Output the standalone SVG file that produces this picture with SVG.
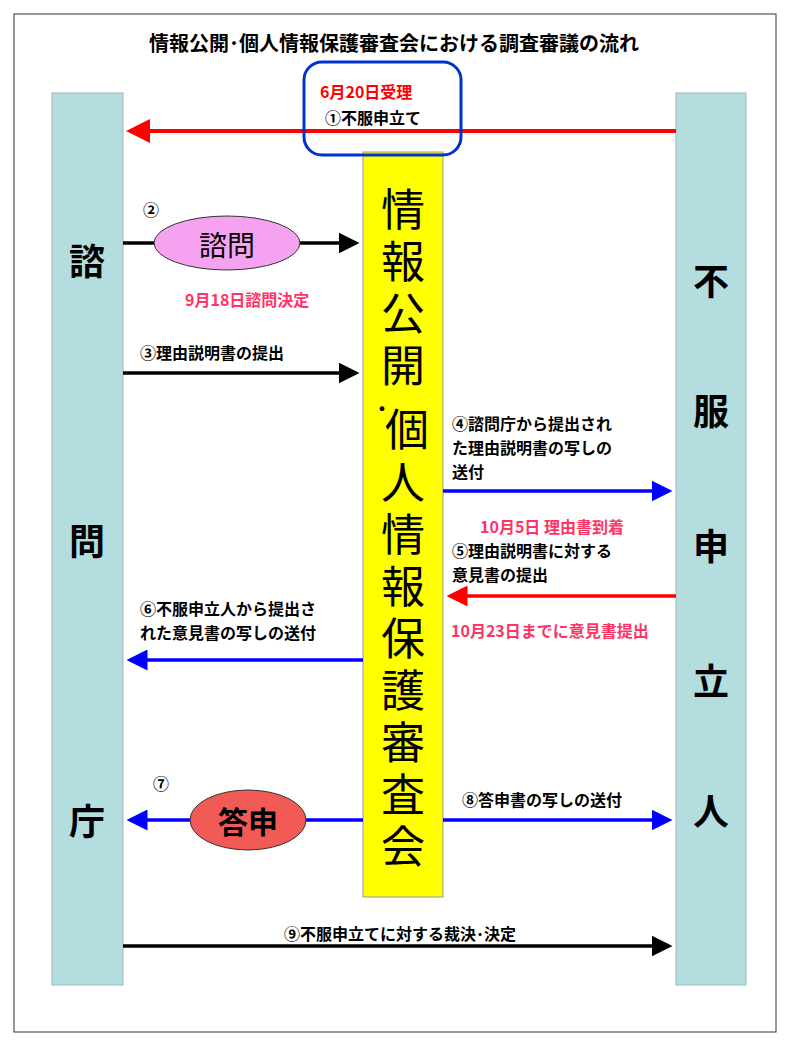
<svg xmlns="http://www.w3.org/2000/svg" width="788" height="1046" viewBox="0 0 788 1046">
<style>
text{font-family:"Noto Sans CJK JP","Liberation Sans",sans-serif;fill:#000}
.lb{font-size:16px;font-weight:bold}
.pk{font-size:16px;font-weight:bold;fill:#ff3366}
.big{font-size:44px;text-anchor:middle}
.side{font-size:36px;font-weight:bold;text-anchor:middle}
.pillar{fill:#b4dde0;stroke:#9fb8bc;stroke-width:1}
</style>
<defs>
<marker id="ak" markerWidth="6" markerHeight="6" refX="5" refY="3" orient="auto" markerUnits="strokeWidth"><path d="M0,0L6,3L0,6z" fill="#000"/></marker>
<marker id="ab" markerWidth="6" markerHeight="6" refX="5" refY="3" orient="auto" markerUnits="strokeWidth"><path d="M0,0L6,3L0,6z" fill="#0000ff"/></marker>
<marker id="ar" markerWidth="6" markerHeight="6" refX="5" refY="3" orient="auto" markerUnits="strokeWidth"><path d="M0,0L6,3L0,6z" fill="#ff0000"/></marker>
</defs>
<rect width="788" height="1046" fill="#fff"/>
<rect x="14" y="14" width="762" height="1018" fill="none" stroke="#333" stroke-width="1"/>
<text x="394" y="51" text-anchor="middle" style="font-size:20px;font-weight:bold">情報公開･個人情報保護審査会における調査審議の流れ</text>
<g id="shimon">
<rect class="pillar" x="52" y="93" width="71" height="892"/>
<text class="side" x="87" y="275">諮</text>
<text class="side" x="87" y="555">問</text>
<text class="side" x="87" y="835">庁</text>
</g>
<g id="fufuku">
<rect class="pillar" x="676" y="93" width="70" height="892"/>
<text class="side" x="711" y="295">不</text>
<text class="side" x="711" y="425">服</text>
<text class="side" x="711" y="560">申</text>
<text class="side" x="711" y="695">立</text>
<text class="side" x="711" y="825">人</text>
</g>
<g id="shinsakai">
<rect x="363" y="152" width="80" height="745" fill="#ffff00" stroke="#999" stroke-width="1"/>
<text class="big" x="403" y="226">情</text>
<text class="big" x="403" y="278">報</text>
<text class="big" x="403" y="330">公</text>
<text class="big" x="403" y="382">開</text>
<text class="big" x="382" y="420" style="font-size:28px">･</text>
<text class="big" x="407" y="446">個</text>
<text class="big" x="403" y="499">人</text>
<text class="big" x="403" y="551">情</text>
<text class="big" x="403" y="603">報</text>
<text class="big" x="403" y="655">保</text>
<text class="big" x="403" y="707">護</text>
<text class="big" x="403" y="759">審</text>
<text class="big" x="403" y="811">査</text>
<text class="big" x="403" y="863">会</text>
</g>
<g id="connectors" fill="none">
<line x1="676" y1="131" x2="130" y2="131" stroke="#ff0000" stroke-width="4" marker-end="url(#ar)"/>
<line x1="123" y1="243" x2="356" y2="243" stroke="#000" stroke-width="3.5" marker-end="url(#ak)"/>
<line x1="123" y1="373" x2="356" y2="373" stroke="#000" stroke-width="3.5" marker-end="url(#ak)"/>
<line x1="443" y1="491" x2="669" y2="491" stroke="#0000ff" stroke-width="3.5" marker-end="url(#ab)"/>
<line x1="676" y1="596" x2="450" y2="596" stroke="#ff0000" stroke-width="3.5" marker-end="url(#ar)"/>
<line x1="363" y1="660" x2="130" y2="660" stroke="#0000ff" stroke-width="3.5" marker-end="url(#ab)"/>
<line x1="363" y1="820" x2="130" y2="820" stroke="#0000ff" stroke-width="3.5" marker-end="url(#ab)"/>
<line x1="443" y1="820" x2="669" y2="820" stroke="#0000ff" stroke-width="3.5" marker-end="url(#ab)"/>
<line x1="123" y1="946" x2="669" y2="946" stroke="#000" stroke-width="3.5" marker-end="url(#ak)"/>
</g>
<g id="step1">
<rect x="304" y="62" width="157" height="93" rx="18" fill="none" stroke="#0033cc" stroke-width="3"/>
<text x="320" y="98" style="font-size:16px;font-weight:bold;fill:#ff0000">6月20日受理</text>
<text class="lb" x="325" y="124">①不服申立て</text>
</g>
<g id="step2">
<text class="lb" x="143" y="216">②</text>
<ellipse cx="227" cy="243" rx="73" ry="27" fill="#f5a3f0" stroke="#333" stroke-width="1"/>
<text x="227" y="256" text-anchor="middle" style="font-size:28px">諮問</text>
<text class="pk" x="185" y="306">9月18日諮問決定</text>
</g>
<g id="step3"><text class="lb" x="140" y="359">③理由説明書の提出</text></g>
<g id="step4">
<text class="lb" x="452" y="430">④諮問庁から提出され</text>
<text class="lb" x="452" y="454">た理由説明書の写しの</text>
<text class="lb" x="452" y="478">送付</text>
</g>
<g id="step5">
<text class="pk" x="480" y="533">10月5日  理由書到着</text>
<text class="lb" x="452" y="557">⑤理由説明書に対する</text>
<text class="lb" x="452" y="581">意見書の提出</text>
<text class="pk" x="451" y="637">10月23日までに意見書提出</text>
</g>
<g id="step6">
<text class="lb" x="140" y="615">⑥不服申立人から提出さ</text>
<text class="lb" x="140" y="639">れた意見書の写しの送付</text>
</g>
<g id="step7">
<text class="lb" x="153" y="790">⑦</text>
<ellipse cx="248" cy="820" rx="58" ry="30" fill="#f25a55" stroke="#333" stroke-width="1"/>
<text x="248" y="833" text-anchor="middle" style="font-size:30px;font-weight:bold">答申</text>
</g>
<g id="step8"><text class="lb" x="462" y="806">⑧答申書の写しの送付</text></g>
<g id="step9"><text class="lb" x="400" y="940" text-anchor="middle">⑨不服申立てに対する裁決･決定</text></g>
</svg>
